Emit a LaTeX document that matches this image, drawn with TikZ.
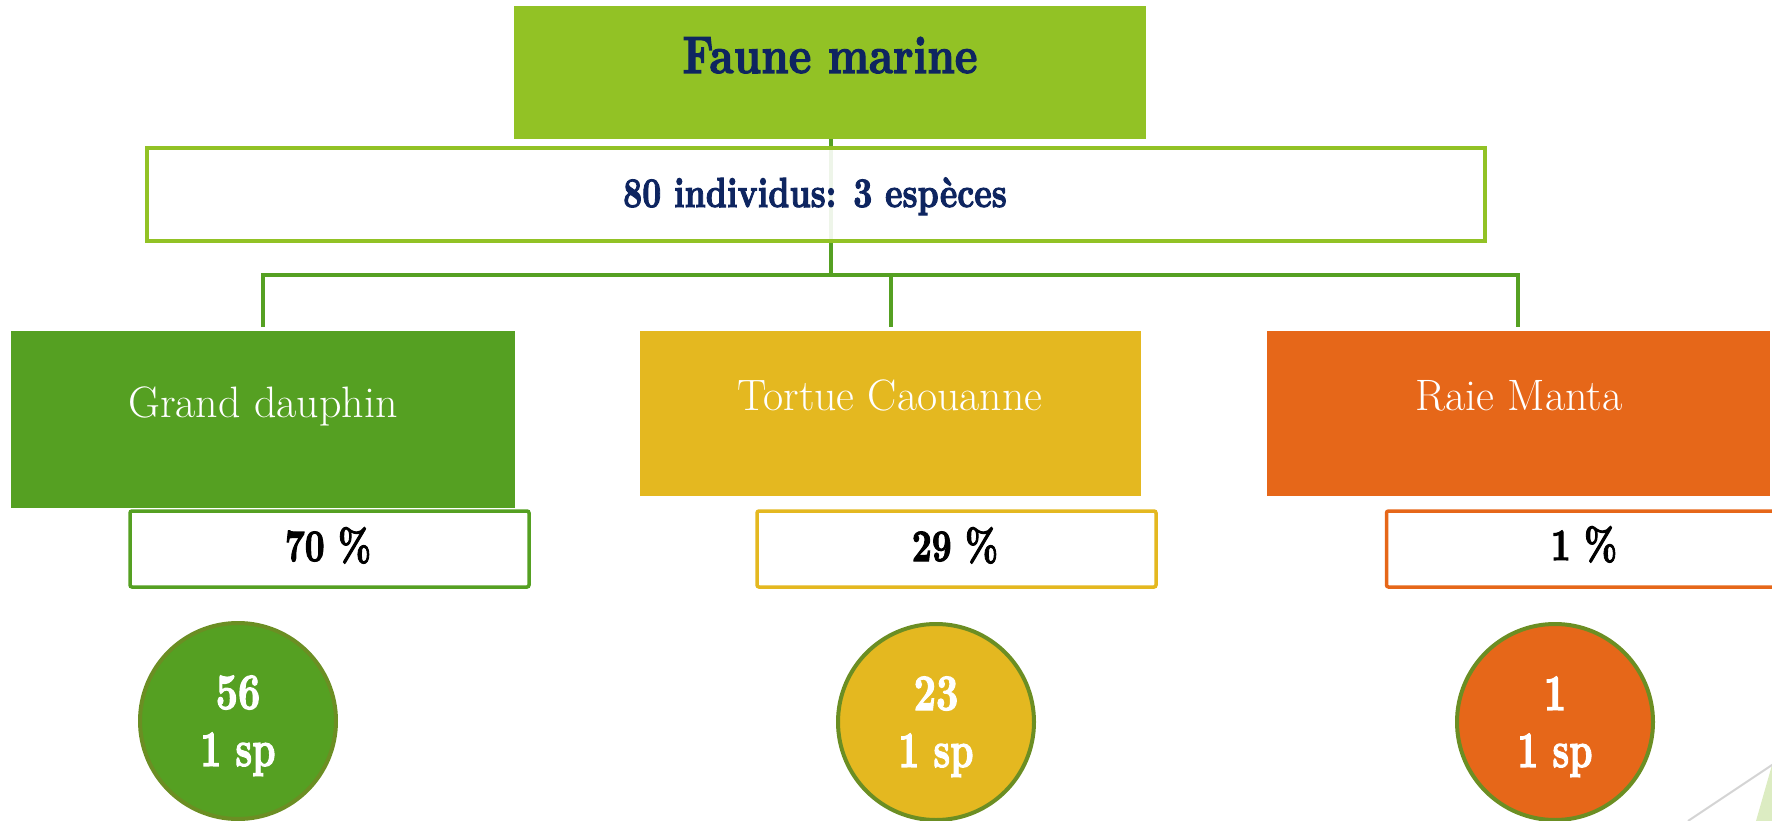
\documentclass[tikz,border=0pt]{standalone}
\usepackage{graphicx}
\usepackage{fontspec}
\newfontfamily\heavyfont{lmroman10-bold.otf}[FakeBold=2.5]
\definecolor{topgreen}{RGB}{146,194,37}
\definecolor{navy}{RGB}{14,37,96}
\definecolor{dgreen}{RGB}{85,160,34}
\definecolor{gold}{RGB}{228,184,32}
\definecolor{orange}{RGB}{230,103,25}
\definecolor{olive}{RGB}{107,142,35}
\definecolor{pale}{RGB}{220,236,194}
\definecolor{greyline}{RGB}{212,212,212}
\newcommand\cx[2]{\scalebox{#1}[1]{#2}}
\tikzset{
  conn/.style={draw=dgreen, line width=4pt},
  fillbox/.style={rectangle, inner sep=0pt, draw=none},
  pctbox/.style={rectangle, fill=white, line width=3.5pt, rounded corners=2pt, inner sep=0pt, minimum width=399pt, minimum height=76pt},
  disc/.style={circle, draw=olive, line width=4pt, minimum size=196pt, inner sep=0pt},
  txt/.style={inner sep=0pt, anchor=base},
  lvltxt/.style={txt, text=white, font=\fontsize{44}{50}\selectfont},
  pcttxt/.style={txt, text=black, font=\heavyfont\fontsize{45}{50}\selectfont},
  disctxt/.style={txt, text=white, font=\heavyfont\fontsize{51}{56}\selectfont},
}
\begin{document}
\begin{tikzpicture}[x=1pt,y=-1pt]
\useasboundingbox (0,0) rectangle (1772,821);

% decoration bottom right
\fill[pale] (1756,821) -- (1776,751) -- (1776,821) -- cycle;
\draw[greyline, line width=2pt] (1688,821) -- (1790,753);

% top box
\node[fillbox, fill=topgreen, minimum width=632pt, minimum height=133pt] (top) at (830,72.5) {};
\node[txt, text=navy, font=\heavyfont\fontsize{52.5}{58}\selectfont] (topt) at (830,73) {\cx{0.82}{Faune marine}};

% connectors
\coordinate (hub) at (831,275);
\coordinate (d1) at (263,327);
\coordinate (d2) at (891,327);
\coordinate (d3) at (1518,327);
\draw[conn] (top.south -| hub) -- (hub);
\draw[conn] (d1) |- (hub) -| (d3);
\draw[conn] (hub) -| (d2);

% second box
\node[rectangle, draw=topgreen, line width=4pt, fill=white, fill opacity=0.9, text opacity=1, minimum width=1338pt, minimum height=93pt, inner sep=0pt] (mid) at (816,194.5) {};
\node[txt, text=navy, font=\heavyfont\fontsize{42}{48}\selectfont] (midt) at (815,207) {\cx{0.79}{80 individus: 3 espèces}};

% level 2 boxes
\node[fillbox, fill=dgreen, minimum width=504pt, minimum height=177pt] (gd) at (263,419.5) {};
\node[lvltxt] (gdt) at (263,417) {\cx{1.0}{Grand dauphin}};
\node[fillbox, fill=gold, minimum width=501pt, minimum height=165pt] (tc) at (890.5,413.5) {};
\node[lvltxt] (tct) at (890,410) {\cx{0.995}{Tortue Caouanne}};
\node[fillbox, fill=orange, minimum width=503pt, minimum height=165pt] (rm) at (1518.5,413.5) {};
\node[lvltxt] (rmt) at (1519,410) {\cx{1.0}{Raie Manta}};

% percent boxes
\node[pctbox, draw=dgreen] (p1) at (329.5,549) {};
\node[pcttxt] (p1t) at (328,561) {\cx{0.77}{70 \%}};
\node[pctbox, draw=gold] (p2) at (956.5,549) {};
\node[pcttxt] (p2t) at (955,561) {\cx{0.77}{29 \%}};
\node[pctbox, draw=orange] (p3) at (1586,549) {};
\node[pcttxt] (p3t) at (1584,560) {\cx{0.77}{1 \%}};

% circles
\node[disc, fill=dgreen] (c1) at (238,721) {};
\node[disctxt] (c1a) at (238,709) {\cx{0.76}{56}};
\node[disctxt] (c1b) at (238,766) {\cx{0.72}{1 sp}};
\node[disc, fill=gold] (c2) at (936,722) {};
\node[disctxt] (c2a) at (936,710) {\cx{0.76}{23}};
\node[disctxt] (c2b) at (936,767) {\cx{0.72}{1 sp}};
\node[disc, fill=orange] (c3) at (1555,722) {};
\node[disctxt] (c3a) at (1555,710) {\cx{0.76}{1}};
\node[disctxt] (c3b) at (1555,767) {\cx{0.72}{1 sp}};
\end{tikzpicture}
\end{document}
